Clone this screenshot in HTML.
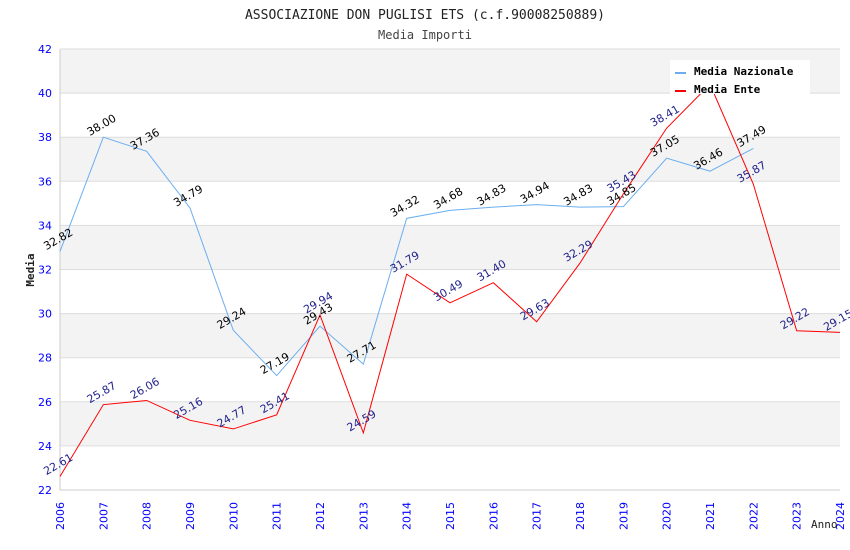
<!DOCTYPE html>
<html><head><meta charset="utf-8"><style>
body{margin:0;background:#fff;}
svg{display:block;font-family:"DejaVu Sans Mono","Liberation Mono",monospace;}
.sans{font-family:"DejaVu Sans","Liberation Sans",sans-serif;}
</style></head><body>
<svg width="850" height="550">
<g id="bands"></g><g id="grid"></g><g id="axes" class="sans"></g><g id="series"></g><g id="labels" class="sans"></g>
<text x="425" y="19" text-anchor="middle" font-size="13" fill="#222">ASSOCIAZIONE DON PUGLISI ETS (c.f.90008250889)</text>
<text x="425" y="39" text-anchor="middle" font-size="12" fill="#444">Media Importi</text>
<text transform="translate(34,270) rotate(-90)" text-anchor="middle" font-size="11" font-weight="bold" fill="#222">Media</text>
<text x="811" y="528" font-size="11" fill="#222">Anno</text>
<g>
<rect x="670" y="60" width="140" height="34" fill="#fff"/>
<line x1="675" y1="73" x2="686" y2="73" stroke="#6aaef0" stroke-width="2"/>
<text x="694" y="75" font-size="11" font-weight="bold" fill="#000">Media Nazionale</text>
<line x1="675" y1="91" x2="686" y2="91" stroke="#f00" stroke-width="2"/>
<text x="694" y="93" font-size="11" font-weight="bold" fill="#000">Media Ente</text>
</g>
</svg>
<script>
const years=[2006,2007,2008,2009,2010,2011,2012,2013,2014,2015,2016,2017,2018,2019,2020,2021,2022,2023,2024];
const nazionale=[32.82,38.00,37.36,34.79,29.24,27.19,29.43,27.71,34.32,34.68,34.83,34.94,34.83,34.85,37.05,36.46,37.49,null,null];
const ente=[22.61,25.87,26.06,25.16,24.77,25.41,29.94,24.59,31.79,30.49,31.40,29.63,32.29,35.43,38.41,40.4,35.87,29.22,29.15];
const yTicks=[22,24,26,28,30,32,34,36,38,40,42];
const NS="http://www.w3.org/2000/svg";
const L=60,R=840,T=49,B=490;
const xs=i=>L+(R-L)*i/(years.length-1);
const ys=v=>B-(v-22)/(42-22)*(B-T);
function mk(tag,attrs,parent){const e=document.createElementNS(NS,tag);for(const k in attrs)e.setAttribute(k,attrs[k]);document.getElementById(parent).appendChild(e);return e;}
for(let i=0;i<yTicks.length-1;i++){
 if(i%2==1){const r=mk('rect',{x:L,y:ys(yTicks[i+1]),width:R-L,height:ys(yTicks[i])-ys(yTicks[i+1]),fill:'#f3f3f3'},'bands');
 
 }
}
yTicks.forEach(t=>{
 const g=mk('line',{x1:L,x2:R,y1:ys(t),y2:ys(t),stroke:'#ddd'},'grid');
 
 
 const tx=mk('text',{x:L-8,y:ys(t)+4,'text-anchor':'end','font-size':'11',fill:'#00f'},'axes');
 tx.textContent=t;
 
 
});
mk('line',{x1:L,x2:L,y1:T,y2:B,stroke:'#ccc'},'axes');
mk('line',{x1:L,x2:R,y1:B,y2:B,stroke:'#ccc'},'axes');
years.forEach((y,i)=>{
 const tx=mk('text',{transform:`translate(${xs(i)+4},${B+40}) rotate(-90)`,'font-size':'11',fill:'#00f'},'axes');
 tx.textContent=y;
 
 
});
function series(vals,color,lblColor,name){
 const pts=[];vals.forEach((v,i)=>{if(v!=null)pts.push(xs(i)+','+ys(v));});
 const p=mk('polyline',{points:pts.join(' '),fill:'none',stroke:color,'stroke-width':1},'series');
 
 
 vals.forEach((v,i)=>{if(v==null)return;
  const t=mk('text',{transform:`translate(${xs(i)},${ys(v)-9}) rotate(-30)`,'text-anchor':'middle','font-size':'11',fill:lblColor},'labels');
  t.textContent=v.toFixed(2);
  
  
 });
}
series(nazionale,'#6aaef0','#000','nazionale');
series(ente,'#f00','#22228b','ente');
</script>
</body></html>
